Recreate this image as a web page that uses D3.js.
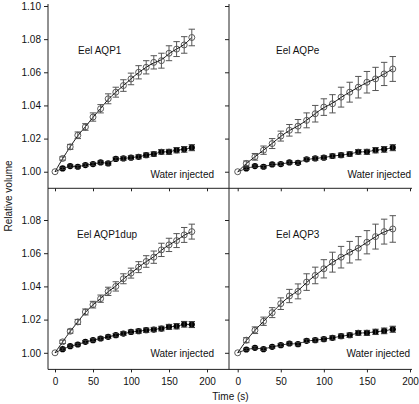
<!DOCTYPE html>
<html><head><meta charset="utf-8">
<script src="https://cdn.jsdelivr.net/npm/d3@7"></script>
<style>body{margin:0;background:#fff}svg{display:block}text{font-family:"Liberation Sans",Arial,sans-serif}</style>
</head><body><svg id="c" width="419" height="404"></svg>
<script>
const times = [0,10,20,30,40,50,60,70,80,90,100,110,120,130,140,150,160,170,180];
const xTicks = [0,50,100,150,200];
const yTicksTop = [1.00,1.02,1.04,1.06,1.08,1.10];
const yTicksBottom = [1.00,1.02,1.04,1.06,1.08];
const panelNames = ["Eel AQP1","Eel AQPe","Eel AQP1dup","Eel AQP3"];
const controlName = "Water injected";

const aqp1 = [1.000,1.008,1.015,1.022,1.027,1.033,1.038,1.044,1.048,1.052,1.056,1.060,1.063,1.066,1.067,1.0715,1.074,1.0765,1.081];
const aqp1Err = [0,0.001,0.0015,0.002,0.002,0.0025,0.0025,0.003,0.003,0.0035,0.0035,0.004,0.004,0.004,0.0045,0.0045,0.0045,0.005,0.005];
const water1 = [1.000,1.002,1.0034,1.003,1.004,1.0046,1.0056,1.005,1.0077,1.008,1.0085,1.009,1.010,1.0107,1.012,1.012,1.013,1.0135,1.0145];

const aqpe = [1.000,1.005,1.009,1.013,1.017,1.0215,1.025,1.0275,1.031,1.035,1.039,1.041,1.045,1.048,1.051,1.054,1.056,1.059,1.062];
const aqpeErr = [0,0.0015,0.002,0.0025,0.003,0.003,0.0035,0.004,0.0045,0.005,0.005,0.0055,0.006,0.006,0.0065,0.0065,0.007,0.007,0.0075];
const waterE = [1.000,1.002,1.0034,1.003,1.0044,1.0046,1.0056,1.0054,1.0075,1.008,1.0085,1.0095,1.010,1.0107,1.012,1.012,1.013,1.0135,1.0145];

const aqp1dup = [1.000,1.0066,1.013,1.0186,1.0246,1.029,1.0326,1.037,1.040,1.0446,1.048,1.0516,1.055,1.0576,1.062,1.065,1.0676,1.071,1.073];
const aqp1dupErr = [0,0.001,0.0012,0.0015,0.0018,0.002,0.0022,0.0025,0.0028,0.003,0.003,0.0033,0.0035,0.0037,0.004,0.004,0.0042,0.0045,0.0045];
const waterDup = [1.000,1.0022,1.004,1.005,1.0066,1.0076,1.0086,1.0096,1.0106,1.0116,1.0126,1.013,1.0136,1.014,1.0146,1.0156,1.016,1.0172,1.017];

const aqp3 = [1.000,1.0076,1.0136,1.019,1.0242,1.0296,1.0342,1.037,1.0426,1.0466,1.0506,1.0546,1.0576,1.0606,1.063,1.0666,1.070,1.073,1.0746];
const aqp3Err = [0,0.0015,0.002,0.0025,0.003,0.0035,0.004,0.0045,0.005,0.005,0.0055,0.006,0.0065,0.0065,0.007,0.007,0.0075,0.0075,0.008];
const water3 = [1.000,1.002,1.003,1.0022,1.0036,1.0046,1.0056,1.0052,1.0072,1.0076,1.0082,1.009,1.010,1.0106,1.012,1.012,1.0126,1.0132,1.0142];

const waterErr = [0,0.0007,0.0007,0.0008,0.0008,0.0009,0.0009,0.001,0.001,0.0011,0.0011,0.0012,0.0013,0.0013,0.0014,0.0015,0.0016,0.0017,0.0018];

const svg = d3.select("#c");
const axisColor = "#222";
const ff = '"Liberation Sans",Arial,sans-serif';

const xLeft = d3.scaleLinear().domain([0,200]).range([55,207]);
const xRight = d3.scaleLinear().domain([0,200]).range([237.7,410]);
const yTop = d3.scaleLinear().domain([0.99,1.10]).range([188.3,6.0]);
const yBot = d3.scaleLinear().domain([0.99,1.10]).range([369.4,186.8]);

const panels = [
  {name:panelNames[0], v:aqp1, e:aqp1Err, w:water1, x:xLeft, y:yTop, col:0, row:0, nameX:78, nameY:53.5, wX:214, wY:178},
  {name:panelNames[1], v:aqpe, e:aqpeErr, w:waterE, x:xRight, y:yTop, col:1, row:0, nameX:276, nameY:53.5, wX:411, wY:177.5},
  {name:panelNames[2], v:aqp1dup, e:aqp1dupErr, w:waterDup, x:xLeft, y:yBot, col:0, row:1, nameX:77, nameY:237.7, wX:214, wY:356.7},
  {name:panelNames[3], v:aqp3, e:aqp3Err, w:water3, x:xRight, y:yBot, col:1, row:1, nameX:276, nameY:238, wX:410, wY:356.7}
];

svg.append("line").attr("x1",48).attr("x2",48).attr("y1",4).attr("y2",369.4).attr("stroke",axisColor);
svg.append("line").attr("x1",229).attr("x2",229).attr("y1",4).attr("y2",369.4).attr("stroke",axisColor);
svg.append("line").attr("x1",48).attr("x2",412).attr("y1",188.3).attr("y2",188.3).attr("stroke",axisColor);
svg.append("line").attr("x1",48).attr("x2",412).attr("y1",369.4).attr("y2",369.4).attr("stroke",axisColor);

panels.forEach(p => {
  const g = svg.append("g");
  const axX = p.col === 0 ? 48 : 229;
  const axY = p.row === 0 ? 188.3 : 369.4;
  const yAx = d3.axisLeft(p.y).tickValues(p.row===0 ? yTicksTop : yTicksBottom).tickSize(4).tickPadding(3)
    .tickFormat(p.col===0 ? d3.format(".2f") : () => "");
  const ga = g.append("g").attr("transform",`translate(${axX},0)`).call(yAx);
  ga.select(".domain").remove();
  ga.selectAll("line").attr("stroke",axisColor);
  ga.selectAll("text").attr("font-size",10).attr("fill","#111").style("font-family",ff);
  const xAx = d3.axisBottom(p.x).tickValues(xTicks).tickSize(3).tickPadding(6)
    .tickFormat(p.row===1 ? d3.format("d") : () => "");
  const gx = g.append("g").attr("transform",`translate(0,${axY})`).call(xAx);
  gx.select(".domain").remove();
  gx.selectAll("line").attr("stroke",axisColor);
  gx.selectAll("text").attr("font-size",10).attr("fill","#111").style("font-family",ff);

  const pts = times.map((t,i)=>({t, v:p.v[i], e:p.e[i], w:p.w[i], we:waterErr[i]}));
  const line = d3.line().curve(d3.curveBasis);

  // filled markers (water)
  g.selectAll(".w").data(pts.slice(1)).join("circle")
    .attr("cx",d=>p.x(d.t)).attr("cy",d=>p.y(d.w)).attr("r",3.1).attr("fill","#000");
  // open markers
  g.selectAll(".o").data(pts).join("circle")
    .attr("cx",d=>p.x(d.t)).attr("cy",d=>p.y(d.v)).attr("r",3).attr("fill","none").attr("stroke","#333").attr("stroke-width",0.8);

  g.append("path").attr("d", line(pts.map(d=>[p.x(d.t), p.y(d.w)]))).attr("fill","none").attr("stroke","#000").attr("stroke-width",0.8);
  g.append("path").attr("d", line(pts.map(d=>[p.x(d.t), p.y(d.v)]))).attr("fill","none").attr("stroke","#000").attr("stroke-width",0.9);

  const eb = (key, ekey, col) => {
    const gg = g.append("g").attr("stroke",col).attr("stroke-width",1);
    pts.filter(d=>d[ekey]>0).forEach(d=>{
      const cx = p.x(d.t), y1 = p.y(d[key]-d[ekey]), y2 = p.y(d[key]+d[ekey]);
      gg.append("line").attr("x1",cx).attr("x2",cx).attr("y1",y1).attr("y2",y2);
      gg.append("line").attr("x1",cx-3.2).attr("x2",cx+3.2).attr("y1",y1).attr("y2",y1);
      gg.append("line").attr("x1",cx-3.2).attr("x2",cx+3.2).attr("y1",y2).attr("y2",y2);
    });
  };
  eb("v","e","#555");
  eb("w","we","#333");

  g.append("text").attr("x",p.nameX).attr("y",p.nameY).attr("font-size",10).attr("fill","#111").text(p.name);
  g.append("text").attr("x",p.wX).attr("y",p.wY).attr("text-anchor","end").attr("font-size",10).attr("fill","#111").text(controlName);
});

svg.append("text").attr("transform","translate(12,196) rotate(-90)").attr("text-anchor","middle")
  .attr("font-size",10).attr("fill","#111").text("Relative volume");
svg.append("text").attr("x",230.5).attr("y",400).attr("text-anchor","middle")
  .attr("font-size",10).attr("fill","#111").text("Time (s)");
</script></body></html>
